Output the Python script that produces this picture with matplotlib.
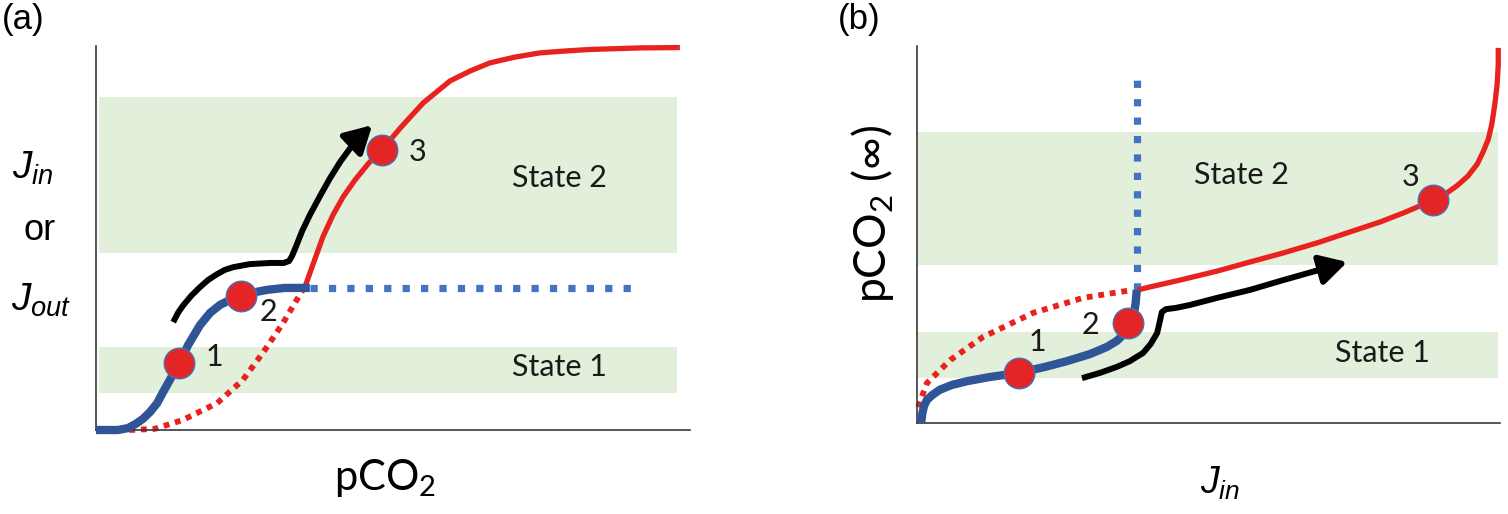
import matplotlib
matplotlib.use("Agg")
import matplotlib.pyplot as plt

plt.rcParams['font.family'] = ['Lato', 'DejaVu Sans']
plt.rcParams['mathtext.fontset'] = 'custom'
plt.rcParams['mathtext.rm'] = 'Lato'
plt.rcParams['mathtext.it'] = 'Liberation Sans:italic'

# ----------------------------
# Panel (a): flux vs pCO2 (schematic, axis units 0-100)
# ----------------------------
a_blue_x = [0.0, 3.7, 5.4, 6.7, 7.9, 9.1, 10.3, 11.3, 12.6, 14.0, 15.5, 17.5, 19.2,
            20.9, 22.6, 24.4, 26.8, 28.8, 31.8, 36.0]
a_blue_y = [0.0, 0.0, 0.5, 1.6, 2.9, 4.7, 7.0, 9.9, 13.5, 17.4, 22.1, 27.3, 30.5,
            32.6, 33.9, 34.9, 35.9, 36.5, 37.0, 37.0]
a_blue_dot_x = [36.0, 91.6]
a_blue_dot_y = [37.0, 37.0]
a_red_dot_x = [5.6, 9.9, 14.6, 20.4, 24.7, 28.1, 31.5, 33.8, 35.0]
a_red_dot_y = [0.0, 0.3, 2.6, 7.0, 13.0, 20.1, 27.9, 33.9, 37.0]
a_red_x = [35.0, 36.5, 38.2, 39.9, 41.6, 43.6, 45.8, 48.1, 51.2, 55.1, 59.6, 63.0,
           66.3, 70.5, 74.7, 79.0, 83.2, 91.6, 98.3]
a_red_y = [36.5, 43.0, 50.3, 56.0, 60.7, 65.1, 69.3, 72.9, 78.6, 85.2, 90.9, 93.5,
           95.6, 97.1, 98.2, 98.7, 99.1, 99.5, 99.6]
a_arrow_x = [13.0, 13.8, 14.6, 16.0, 17.5, 18.9, 20.4, 21.7, 23.1, 25.9, 29.3, 31.6,
             32.5, 33.0, 33.7, 34.7, 36.0, 37.7, 39.4, 41.1, 42.8, 44.6, 46.5]
a_arrow_y = [28.1, 30.5, 32.3, 34.9, 37.2, 39.1, 40.6, 41.7, 42.4, 43.2, 43.5, 43.5,
             44.0, 45.3, 47.9, 51.8, 56.0, 60.9, 65.6, 69.8, 73.4, 76.6, 79.4]
a_pts_x = [14.0, 24.4, 48.1]
a_pts_y = [17.4, 34.9, 72.9]
a_pt_labels = ["1", "2", "3"]
a_lab_x = [19.9, 29.1, 54.2]
a_lab_y = [19.0, 30.7, 72.4]
a_bands = [(9.6, 21.6), (46.1, 86.7)]
a_band_x = (0.5, 97.8)
a_states = ["State 1", "State 2"]
a_state_x = [78.1, 78.1]
a_state_y = [16.4, 65.6]

# ----------------------------
# Panel (b): pCO2(inf) vs J_in
# ----------------------------
b_blue_x = [0.7, 0.9, 1.2, 1.7, 2.6, 3.9, 6.0, 8.6, 12.5, 17.5, 22.0, 25.7, 29.7,
            32.6, 34.3, 35.5, 36.5, 37.2, 37.5, 37.7]
b_blue_y = [0.0, 2.4, 4.5, 6.1, 7.4, 8.8, 10.1, 11.1, 12.2, 13.3, 14.9, 16.4, 18.3,
            20.2, 21.8, 23.6, 26.0, 28.9, 31.8, 35.3]
b_blue_dot_x = [37.7, 37.7]
b_blue_dot_y = [35.3, 91.5]
b_red_dot_x = [0.2, 1.7, 5.7, 11.3, 19.9, 28.5, 37.0]
b_red_dot_y = [4.2, 10.6, 16.7, 22.8, 29.2, 33.2, 35.3]
b_red_x = [37.9, 40.0, 45.1, 51.5, 57.1, 62.8, 69.1, 74.3, 79.4, 83.4, 86.3, 88.5,
           90.6, 92.6, 94.5, 96.1, 97.1, 98.0, 98.6, 99.1, 99.5, 99.7, 99.7]
b_red_y = [35.3, 36.1, 37.9, 40.3, 42.7, 45.1, 48.0, 50.7, 53.3, 55.7, 57.6, 59.2,
           60.7, 62.9, 65.5, 68.7, 71.9, 75.3, 79.3, 84.4, 89.7, 95.0, 99.5]
b_arrow_x = [28.3, 31.4, 34.3, 36.5, 38.8, 40.1, 41.2, 41.7, 42.0, 42.7, 44.3, 46.8,
             51.5, 57.1, 62.8, 68.3, 73.8]
b_arrow_y = [11.9, 13.3, 14.9, 16.4, 18.6, 21.0, 23.9, 27.3, 29.4, 30.2, 30.5, 31.3,
             33.2, 35.3, 37.9, 40.3, 42.7]
b_pts_x = [17.5, 36.2, 88.5]
b_pts_y = [13.3, 26.5, 59.2]
b_pt_labels = ["1", "2", "3"]
b_lab_x = [20.6, 29.7, 84.6]
b_lab_y = [21.5, 26.0, 65.3]
b_bands = [(11.9, 24.1), (41.9, 77.2)]
b_band_x = (0.0, 99.7)
b_states = ["State 1", "State 2"]
b_state_x = [79.8, 55.7]
b_state_y = [18.6, 65.8]

BLUE = "#2f5597"
BLUE_DOT = "#4472c4"
RED = "#e8221e"
GREEN = "#e2efda"

W, H = 1508, 514


def fig_pos(x, y):
    return x / W, 1 - y / H


def draw_panel(ax, blue, blue_dot, red_dot, red, arrow, pts, labs, bands, band_x, states):
    for lo, hi in bands:
        ax.fill_between(band_x, lo, hi, color=GREEN, lw=0, zorder=0)
    for (lab, sx, sy) in zip(*states):
        ax.text(sx, sy, lab, fontsize=22, ha="center", va="center", color="#1a1a1a")

    ax.plot(*red_dot, color=RED, lw=4.2, linestyle=(0, (1, 1)),
            dash_capstyle="butt", zorder=2, clip_on=False)
    ax.plot(*blue_dot, color=BLUE_DOT, lw=5.2, linestyle=(0, (1, 1.55)),
            dash_capstyle="butt", zorder=2, clip_on=False)
    ax.plot(*red, color=RED, lw=3.8, solid_joinstyle="round",
            solid_capstyle="butt", zorder=3, clip_on=False)
    ax.plot(*blue, color=BLUE, lw=6, solid_joinstyle="round",
            solid_capstyle="butt", zorder=4, clip_on=False)

    ax_x, ax_y = arrow
    ax.plot(ax_x[:-1], ax_y[:-1], color="black", lw=4.3,
            solid_joinstyle="round", solid_capstyle="butt", zorder=4)
    ax.annotate("", xy=(ax_x[-1], ax_y[-1]), xytext=(ax_x[-2], ax_y[-2]),
                arrowprops=dict(arrowstyle="-|>,head_length=0.9,head_width=0.5",
                                color="black", lw=4.3, mutation_scale=18,
                                shrinkA=0, shrinkB=0), zorder=4)

    ax.plot(*pts, linestyle="none", marker="o", markersize=22,
            markerfacecolor="#e32526", markeredgecolor="#4a6fb5",
            markeredgewidth=1, zorder=5)
    for (lab, lx, ly) in zip(*labs):
        ax.text(lx, ly, lab, fontsize=22, ha="center", va="center", color="#1a1a1a")

    ax.set_xlim(0, 100)
    ax.set_ylim(0, 100)
    ax.set_xticks([])
    ax.set_yticks([])
    for side in ["top", "right"]:
        ax.spines[side].set_visible(False)
    for side in ["left", "bottom"]:
        ax.spines[side].set_color("#3a3a3a")
        ax.spines[side].set_linewidth(1.2)
    ax.patch.set_alpha(0)


fig = plt.figure(figsize=(W / 100, H / 100), dpi=100)

ax_a = fig.add_axes([96 / W, (H - 430) / H, 594 / W, 384 / H])
draw_panel(ax_a,
           (a_blue_x, a_blue_y), (a_blue_dot_x, a_blue_dot_y),
           (a_red_dot_x, a_red_dot_y), (a_red_x, a_red_y),
           (a_arrow_x, a_arrow_y), (a_pts_x, a_pts_y),
           (a_pt_labels, a_lab_x, a_lab_y), a_bands, a_band_x,
           (a_states, a_state_x, a_state_y))

ax_b = fig.add_axes([917 / W, (H - 423) / H, 583 / W, 377 / H])
draw_panel(ax_b,
           (b_blue_x, b_blue_y), (b_blue_dot_x, b_blue_dot_y),
           (b_red_dot_x, b_red_dot_y), (b_red_x, b_red_y),
           (b_arrow_x, b_arrow_y), (b_pts_x, b_pts_y),
           (b_pt_labels, b_lab_x, b_lab_y), b_bands, b_band_x,
           (b_states, b_state_x, b_state_y))

# panel letters and axis labels
arial = ["Liberation Sans", "DejaVu Sans"]
fig.text(*fig_pos(23, 19), "(a)", fontsize=25, family=arial, ha="center", va="center")
fig.text(*fig_pos(859, 19), "(b)", fontsize=25, family=arial, ha="center", va="center")

fig.text(*fig_pos(33, 168), r"$J_{in}$", fontsize=28, ha="center", va="center")
fig.text(*fig_pos(40, 231), "or", fontsize=26, family=arial, ha="center", va="center")
fig.text(*fig_pos(41, 300), r"$J_{out}$", fontsize=28, ha="center", va="center")

fig.text(*fig_pos(385, 490), r"pCO$_2$", fontsize=30, ha="center", va="baseline")
fig.text(*fig_pos(872, 214), "pCO$_2$ (\u221e)", fontsize=32, rotation=90,
         ha="center", va="center")
fig.text(*fig_pos(1220, 494), r"$J_{in}$", fontsize=27, ha="center", va="baseline")

fig.savefig("out.png", dpi=100)
